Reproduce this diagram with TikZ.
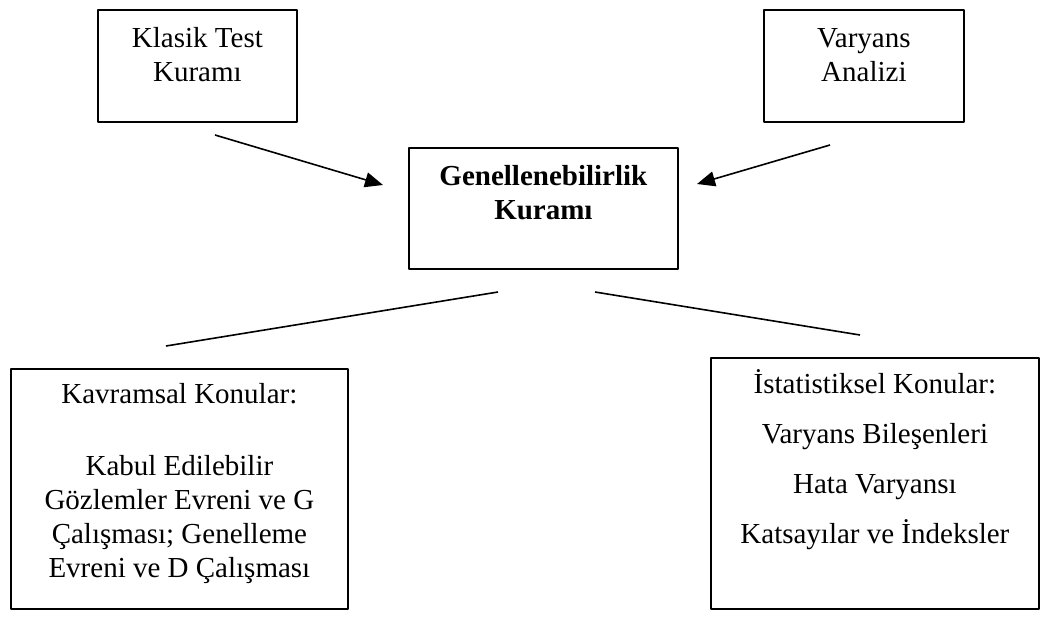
\documentclass[tikz,border=0pt]{standalone}
\usepackage{fontspec}
\setmainfont{Liberation Serif}
\usetikzlibrary{positioning,arrows.meta}
\begin{document}
\begin{tikzpicture}[
		x=1pt, y=-1pt,
		line join=round,
		kutu/.style={draw, line width=1.8pt, inner sep=0pt, anchor=north west},
		yazi/.style={align=center, inner sep=0pt, font=\fontsize{29}{34}\selectfont},
		ok/.style={line width=1.6pt, -{Triangle[length=18pt,width=15pt]}},
		cizgi/.style={line width=1.6pt}
	]
	\useasboundingbox (0,0) rectangle (1047,619);

	% Boxes
	\node[kutu, minimum width=199pt, minimum height=112pt] (klasik) at (97,9) {};
	\node[kutu, minimum width=200pt, minimum height=112pt] (varyans) at (763,9) {};
	\node[kutu, minimum width=269pt, minimum height=121pt] (gk) at (408,147) {};
	\node[kutu, minimum width=337pt, minimum height=240pt] (kavram) at (10,368) {};
	\node[kutu, minimum width=328pt, minimum height=251pt] (istat) at (710,357) {};

	% Texts
	\node[yazi, below=14.2pt of klasik.north] (klasik-t) {\strut Klasik Test\\Kuramı};
	\node[yazi, below=14.2pt of varyans.north] (varyans-t) {\strut Varyans\\Analizi};
	\node[yazi, font=\fontsize{29}{34}\selectfont\bfseries, below=14.2pt of gk.north] (gk-t) {\strut Genellenebilirlik\\Kuramı};
	\node[yazi, below=11.2pt of kavram.north] (kavram-t) {\strut Kavramsal Konular:\\[38pt]
		Kabul Edilebilir\\Gözlemler Evreni ve G\\Çalışması; Genelleme\\Evreni ve D Çalışması};
	\node[yazi, below=12.2pt of istat.north] (istat-t) {\strut İstatistiksel Konular:\\[16pt]
		Varyans Bileşenleri\\[16pt]Hata Varyansı\\[16pt]Katsayılar ve İndeksler};

	% Connector ends
	\coordinate (k1) at (215,135);
	\coordinate (k2) at (383,185);
	\coordinate (v1) at (830,145);
	\coordinate (v2) at (697,184);
	\coordinate (g1) at (498,292);
	\coordinate (g2) at (166,346);
	\coordinate (g3) at (595,292);
	\coordinate (g4) at (860,335);

	% Arrows and lines
	\draw[ok] (k1) -- (k2);
	\draw[ok] (v1) -- (v2);
	\draw[cizgi] (g1) -- (g2);
	\draw[cizgi] (g3) -- (g4);

\end{tikzpicture}
\end{document}
